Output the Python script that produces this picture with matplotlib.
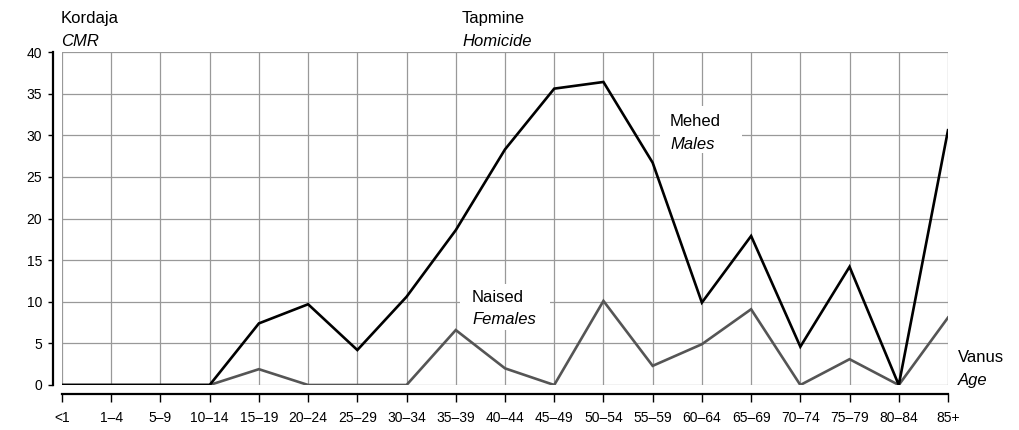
import matplotlib
matplotlib.use("Agg")
import matplotlib.pyplot as plt
from matplotlib.patches import Rectangle

age_groups = ["<1", "1–4", "5–9", "10–14", "15–19", "20–24", "25–29", "30–34",
              "35–39", "40–44", "45–49", "50–54", "55–59", "60–64", "65–69",
              "70–74", "75–79", "80–84", "85+"]
males = [0, 0, 0, 0, 7.4, 9.7, 4.2, 10.6, 18.6, 28.3, 35.6, 36.4, 26.7,
         9.9, 17.9, 4.6, 14.2, 0, 30.6]
females = [0, 0, 0, 0, 1.9, 0, 0, 0, 6.6, 2.0, 0, 10.1, 2.3, 4.9, 9.1,
           0, 3.1, 0, 8.1]
y_ticks = [0, 5, 10, 15, 20, 25, 30, 35, 40]

plt.rcParams['font.family'] = ['Liberation Sans', 'DejaVu Sans']

W, H = 1020, 430
fig = plt.figure(figsize=(W / 100, H / 100), dpi=100)
ax = fig.add_axes([62/W, 1-385/H, (948-62)/W, (385-52)/H])

x = list(range(len(age_groups)))
ax.plot(x, females, color='#555555', lw=1.9, zorder=3, solid_joinstyle='miter')
ax.plot(x, males, color='black', lw=1.9, zorder=4, solid_joinstyle='miter')

ax.set_xlim(0, len(age_groups) - 1)
ax.set_ylim(0, 40)
ax.set_xticks(x)
ax.set_xticklabels(age_groups, fontsize=10.5)
ax.set_yticks(y_ticks)
ax.set_yticklabels([str(v) for v in y_ticks], fontsize=12.5)

ax.grid(True, color='#999999', lw=0.9, zorder=0)
ax.set_axisbelow(True)
for s in ['top', 'right']:
    ax.spines[s].set_visible(False)
ax.spines['left'].set_position(('outward', 6.5))
ax.spines['bottom'].set_position(('outward', 6.5))
ax.spines['left'].set_linewidth(1.6)
ax.spines['bottom'].set_linewidth(1.6)
ax.tick_params(axis='y', length=3.6, width=1, pad=4.3)
ax.tick_params(axis='x', length=5.8, width=1, pad=6.5)

def box(x0, y0, x1, y1):
    r = Rectangle((x0 / W, 1 - y1 / H), (x1 - x0) / W, (y1 - y0) / H,
                  transform=fig.transFigure, facecolor='white',
                  edgecolor='none', zorder=2)
    ax.add_patch(r)

box(660, 106, 742, 153)
box(460, 284, 550, 330)

fs = 12
def label(px, py, s, italic=False):
    fig.text(px / W, 1 - py / H, s, fontsize=fs, va='center', ha='left',
             style='italic' if italic else 'normal', zorder=5)

label(61, 18, "Kordaja")
label(61, 42, "CMR", True)
label(462, 18, "Tapmine")
label(462, 42, "Homicide", True)
label(670, 121, "Mehed")
label(670, 145, "Males", True)
label(472, 298, "Naised")
label(472, 320, "Females", True)
label(958, 357, "Vanus")
label(958, 381, "Age", True)

fig.savefig("out.png", dpi=100)
